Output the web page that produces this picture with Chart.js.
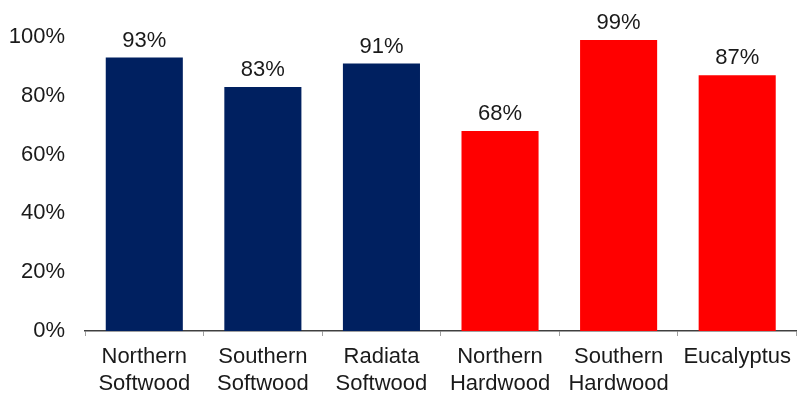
<!DOCTYPE html>
<html>
<head>
<meta charset="utf-8">
<script src="https://cdn.jsdelivr.net/npm/chart.js@4/dist/chart.umd.min.js"></script>
<style>
  html, body { margin: 0; padding: 0; background: #fff; }
</style>
</head>
<body>
<canvas id="barGraph" width="799" height="394"></canvas>
<script>
// CATEGORIES + VALUES

const categories = [
  ['Northern', 'Softwood'],
  ['Southern', 'Softwood'],
  ['Radiata', 'Softwood'],
  ['Northern', 'Hardwood'],
  ['Southern', 'Hardwood'],
  'Eucalyptus'
];
const shares = [93, 83, 91, 68, 99, 87];
const barColors = ['#002060', '#002060', '#002060', '#FF0000', '#FF0000', '#FF0000'];
const yTicks = [0, 20, 40, 60, 80, 100];

const font = { family: 'Liberation Sans, Arial, sans-serif', size: 22, lineHeight: 1.2 };

// value labels above each bar
const barLabels = {
  id: 'barLabels',
  afterDatasetsDraw(chart) {
    const c = chart.ctx;
    const meta = chart.getDatasetMeta(0);
    c.save();
    c.font = font.size + 'px ' + font.family;
    c.fillStyle = '#1a1a1a';
    c.textAlign = 'center';
    c.textBaseline = 'bottom';
    meta.data.forEach((bar, i) => {
      c.fillText(shares[i] + '%', bar.x, bar.y - 6);
    });
    c.restore();
  }
};

// BAR GRAPH

const ctx = document.getElementById('barGraph').getContext('2d');
const myChart = new Chart(ctx, {
  type: 'bar',
  data: {
    labels: categories,
    datasets: [{
      data: shares,
      backgroundColor: barColors,
      borderWidth: 0,
      categoryPercentage: 0.65,
      barPercentage: 1
    }]
  },
  plugins: [barLabels],
  options: {
    responsive: false,
    animation: false,
    layout: { padding: { top: 37, right: 0, left: 0, bottom: 0 } },
    plugins: {
      legend: { display: false },
      tooltip: { enabled: false }
    },
    scales: {
      x: {
        offset: true,
        grid: {
          offset: true,
          drawOnChartArea: false,
          drawTicks: true,
          tickLength: 5,
          color: '#a0a0a0'
        },
        border: { color: '#404040', width: 1.5 },
        ticks: {
          color: '#1a1a1a',
          font: font,
          padding: 8,
          maxRotation: 0,
          autoSkip: false
        },
        afterFit(scale) { scale.height = 63; }
      },
      y: {
        min: 0,
        max: 100,
        afterBuildTicks(scale) {
          scale.ticks = yTicks.map(v => ({ value: v }));
        },
        grid: { display: false, drawTicks: false },
        border: { display: false },
        ticks: {
          color: '#1a1a1a',
          font: font,
          padding: 20,
          callback: v => v + '%'
        },
        afterFit(scale) { scale.width = 85; }
      }
    }
  }
});
</script>
</body>
</html>
